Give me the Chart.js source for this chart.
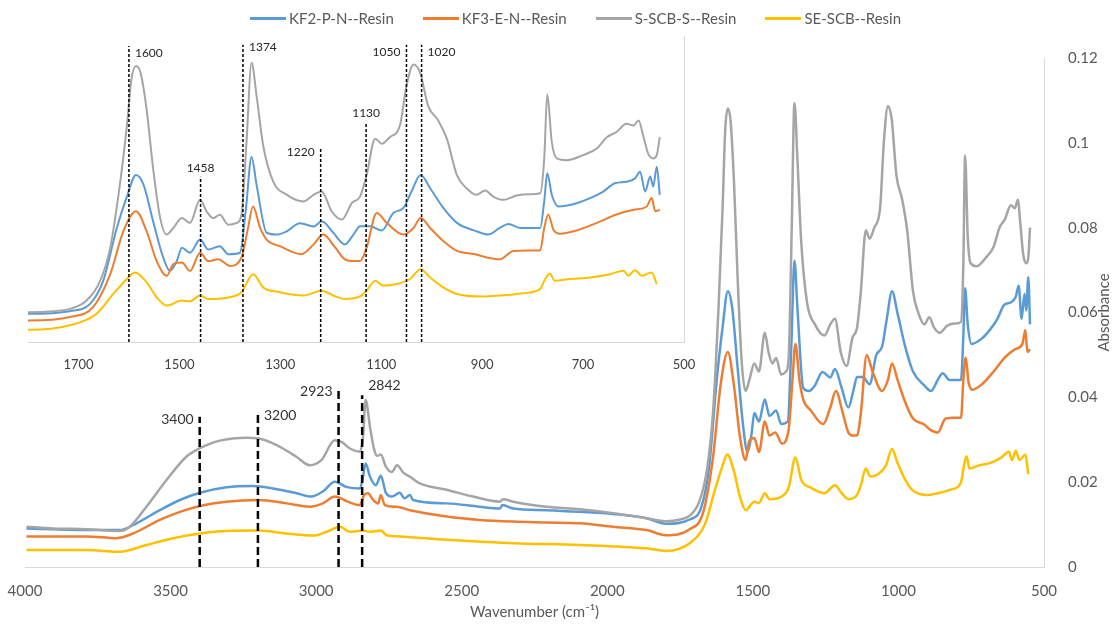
<!DOCTYPE html>
<html>
<head>
<meta charset="utf-8">
<title>FTIR resinas</title>
<script src="https://cdn.jsdelivr.net/npm/chart.js@4.4.1/dist/chart.umd.min.js"></script>
<style>
    body { margin: 0; background: #fff; }
    #wrap { position: relative; width: 1117px; height: 624px; }
    #main, #inset { position: absolute; left: 0; top: 0; }
    #leyenda { position: absolute; left: 250px; top: 9px; display: flex; align-items: center; font: 15px Lato, sans-serif; color: #595959; line-height: 18px; }
    #leyenda .item { display: flex; align-items: center; margin-right: 29px; }
    #leyenda .linea { width: 36px; height: 3px; margin-right: 3px; }
</style>
</head>
<body>
<div id="wrap">
    <canvas id="main" width="1117" height="624"></canvas>
    <canvas id="inset" width="720" height="380"></canvas>
    <div id="leyenda"></div>
</div>
<script>
// espectros (numero de onda cm-1 / absorbancia)
var kf2Wn = [3995, 3789, 3675, 3617, 3537, 3468, 3399, 3308, 3217, 3148, 3068, 3017, 2977, 2936, 2897, 2850, 2841, 2830, 2815, 2795, 2778, 2760, 2740, 2713, 2696, 2678, 2667, 2552, 2438, 2369, 2360, 2323, 2209, 2094, 1980, 1865, 1799, 1717, 1677, 1651, 1624, 1604, 1586, 1571, 1552, 1532, 1519, 1505, 1495, 1479, 1459, 1443, 1420, 1403, 1380, 1368, 1357, 1347, 1327, 1307, 1287, 1261, 1234, 1218, 1195, 1172, 1155, 1142, 1122, 1099, 1076, 1056, 1040, 1022, 1003, 977, 950, 911, 888, 865, 848, 825, 785, 777, 771, 762, 749, 713, 686, 660, 637, 614, 597, 587, 577, 567, 561, 554, 548];
var kf2Abs = [0.0091, 0.0087, 0.0087, 0.0103, 0.0134, 0.0158, 0.0175, 0.0188, 0.0191, 0.0185, 0.0174, 0.0166, 0.0178, 0.0201, 0.0189, 0.0185, 0.0205, 0.0244, 0.0213, 0.0193, 0.0215, 0.0174, 0.0166, 0.0175, 0.0162, 0.017, 0.0158, 0.015, 0.0142, 0.0138, 0.0146, 0.0138, 0.0134, 0.013, 0.0125, 0.0115, 0.0102, 0.0112, 0.0141, 0.0232, 0.0441, 0.0565, 0.065, 0.0611, 0.0467, 0.0324, 0.0272, 0.0311, 0.0363, 0.0343, 0.0395, 0.0356, 0.0369, 0.0337, 0.0343, 0.052, 0.0722, 0.0611, 0.0422, 0.0415, 0.0428, 0.046, 0.0447, 0.0467, 0.0422, 0.0376, 0.0415, 0.0448, 0.0448, 0.0431, 0.05, 0.052, 0.0585, 0.065, 0.0598, 0.052, 0.0461, 0.0428, 0.0415, 0.0441, 0.0457, 0.0441, 0.0441, 0.0546, 0.0657, 0.0572, 0.0526, 0.0539, 0.0559, 0.0585, 0.0618, 0.0624, 0.0637, 0.0663, 0.0585, 0.0644, 0.0605, 0.0683, 0.0572];

var kf3Wn = [3995, 3789, 3686, 3629, 3537, 3468, 3399, 3308, 3196, 3102, 3022, 2977, 2936, 2891, 2850, 2835, 2822, 2804, 2787, 2778, 2764, 2724, 2678, 2552, 2438, 2323, 2209, 2094, 1980, 1865, 1799, 1717, 1671, 1637, 1611, 1586, 1565, 1545, 1525, 1512, 1495, 1479, 1459, 1443, 1423, 1400, 1377, 1364, 1354, 1340, 1327, 1301, 1258, 1234, 1215, 1191, 1172, 1155, 1142, 1129, 1109, 1089, 1056, 1036, 1022, 1003, 977, 950, 914, 891, 865, 838, 812, 785, 777, 769, 759, 746, 713, 673, 634, 600, 574, 564, 557, 548];
var kf3Abs = [0.0072, 0.0072, 0.0068, 0.0079, 0.0111, 0.013, 0.0144, 0.0154, 0.0158, 0.015, 0.0142, 0.015, 0.0166, 0.0154, 0.0146, 0.017, 0.0174, 0.0158, 0.015, 0.017, 0.0146, 0.0142, 0.0134, 0.0119, 0.0111, 0.0107, 0.0105, 0.0103, 0.0095, 0.0087, 0.0075, 0.0089, 0.0128, 0.0258, 0.0428, 0.0507, 0.0428, 0.031, 0.0252, 0.0298, 0.0304, 0.0271, 0.0343, 0.031, 0.0317, 0.0291, 0.0324, 0.0441, 0.0526, 0.0441, 0.0395, 0.0369, 0.0337, 0.0376, 0.0415, 0.0363, 0.0317, 0.031, 0.031, 0.0363, 0.05, 0.0461, 0.0415, 0.0441, 0.048, 0.0441, 0.0389, 0.035, 0.0337, 0.0324, 0.0317, 0.035, 0.0352, 0.0352, 0.0441, 0.0494, 0.0435, 0.0418, 0.0431, 0.0461, 0.0494, 0.0513, 0.0526, 0.0559, 0.0507, 0.0513];

var sscbWn = [3995, 3904, 3789, 3675, 3640, 3583, 3514, 3446, 3399, 3331, 3240, 3196, 3137, 3068, 3022, 2982, 2936, 2913, 2885, 2850, 2839, 2830, 2815, 2800, 2790, 2778, 2760, 2740, 2722, 2700, 2678, 2644, 2552, 2461, 2369, 2358, 2323, 2209, 2094, 1980, 1865, 1799, 1750, 1717, 1684, 1657, 1637, 1618, 1604, 1595, 1586, 1577, 1565, 1552, 1538, 1525, 1512, 1495, 1479, 1459, 1446, 1433, 1420, 1403, 1386, 1377, 1367, 1357, 1347, 1334, 1314, 1287, 1254, 1234, 1218, 1198, 1178, 1158, 1142, 1129, 1112, 1099, 1083, 1063, 1050, 1036, 1023, 1007, 987, 970, 950, 931, 911, 894, 878, 858, 832, 805, 785, 777, 771, 762, 752, 732, 700, 673, 653, 634, 614, 600, 590, 581, 571, 561, 554, 548];
var sscbAbs = [0.0095, 0.0091, 0.0089, 0.0085, 0.0095, 0.0142, 0.0205, 0.026, 0.028, 0.0298, 0.0305, 0.0303, 0.0288, 0.026, 0.024, 0.0252, 0.0299, 0.0295, 0.028, 0.0272, 0.0307, 0.0394, 0.033, 0.0275, 0.0262, 0.0265, 0.0236, 0.0224, 0.024, 0.0222, 0.0213, 0.0197, 0.0182, 0.0166, 0.0154, 0.016, 0.0154, 0.0142, 0.0136, 0.0127, 0.0115, 0.0108, 0.0112, 0.0121, 0.0154, 0.0232, 0.0363, 0.0611, 0.0846, 0.1029, 0.1081, 0.1055, 0.0911, 0.0676, 0.048, 0.0415, 0.0441, 0.048, 0.0461, 0.0552, 0.0506, 0.048, 0.0493, 0.0454, 0.0461, 0.0493, 0.078, 0.1094, 0.0963, 0.0768, 0.0624, 0.0572, 0.0546, 0.0572, 0.0585, 0.0506, 0.0474, 0.054, 0.0565, 0.065, 0.0794, 0.0774, 0.08, 0.0846, 0.1002, 0.1087, 0.1055, 0.0924, 0.0866, 0.0794, 0.065, 0.0598, 0.0572, 0.0589, 0.0565, 0.0552, 0.0569, 0.0574, 0.0578, 0.0716, 0.097, 0.078, 0.0716, 0.0709, 0.0729, 0.0755, 0.08, 0.082, 0.0853, 0.0846, 0.0866, 0.0807, 0.0735, 0.0716, 0.0729, 0.08];

var seWn = [3995, 3789, 3675, 3583, 3491, 3399, 3308, 3196, 3102, 3010, 2964, 2918, 2885, 2839, 2816, 2778, 2758, 2713, 2552, 2323, 2094, 1865, 1799, 1717, 1664, 1631, 1604, 1588, 1565, 1545, 1525, 1495, 1479, 1459, 1443, 1400, 1377, 1354, 1334, 1301, 1254, 1218, 1195, 1172, 1142, 1129, 1112, 1096, 1069, 1043, 1022, 1003, 977, 950, 898, 865, 818, 785, 775, 766, 756, 726, 686, 647, 620, 610, 597, 584, 564, 554];
var seAbs = [0.004, 0.004, 0.0036, 0.0052, 0.0068, 0.0079, 0.0085, 0.0086, 0.0079, 0.0074, 0.0083, 0.0095, 0.0083, 0.0086, 0.0083, 0.0086, 0.0075, 0.0072, 0.0064, 0.0056, 0.0052, 0.0044, 0.0038, 0.0056, 0.0102, 0.018, 0.0239, 0.0265, 0.0226, 0.0167, 0.0134, 0.0154, 0.0151, 0.0174, 0.016, 0.0167, 0.0187, 0.0258, 0.0206, 0.0187, 0.0174, 0.0193, 0.0174, 0.016, 0.017, 0.0193, 0.0232, 0.0213, 0.0219, 0.0239, 0.0278, 0.0245, 0.0206, 0.018, 0.017, 0.0174, 0.0183, 0.02, 0.0239, 0.0261, 0.0232, 0.0239, 0.0245, 0.0258, 0.0272, 0.0252, 0.0274, 0.0252, 0.0265, 0.0219];

var xTicks = [4000, 3500, 3000, 2500, 2000, 1500, 1000, 500];
var insetTicks = [1700, 1500, 1300, 1100, 900, 700, 500];
var yTicks = [0, 0.02, 0.04, 0.06, 0.08, 0.1, 0.12];

// lineas de picos marcadas
var mainPeaks = [3400, 3200, 2923, 2842];
var mainPeakTop = [0.0354, 0.0363, 0.0422, 0.0405];
var mainPeakLabelY = [0.0347, 0.0358, 0.0413, 0.0429];
var mainPeakSide = ['left', 'right', 'left', 'right'];

var insetPeaks = [1600, 1458, 1374, 1220, 1130, 1050, 1020];
var insetPeakTop = [0.116, 0.0643, 0.1165, 0.0761, 0.086, 0.1165, 0.1165];
var insetPeakLabelY = [0.1134, 0.0678, 0.1157, 0.0741, 0.0896, 0.1137, 0.1137];
var insetPeakSide = ['right', 'center', 'right', 'left', 'center', 'left', 'right'];

function puntos(wn, abs) {
    var pts = [];
    for (var i = 0; i < wn.length; i++) {
        pts.push({ x: wn[i], y: abs[i] });
    }
    return pts;
}

function series(ancho) {
    var defs = [
        ['KF2-P-N--Resin', kf2Wn, kf2Abs, '#5B9BD5'],
        ['KF3-E-N--Resin', kf3Wn, kf3Abs, '#ED7D31'],
        ['S-SCB-S--Resin', sscbWn, sscbAbs, '#A5A5A5'],
        ['SE-SCB--Resin', seWn, seAbs, '#FFC000']
    ];
    return defs.map(function (d, i) {
        return {
            label: d[0],
            data: puntos(d[1], d[2]),
            borderColor: d[3],
            backgroundColor: d[3],
            borderWidth: ancho,
            pointRadius: 0,
            cubicInterpolationMode: 'monotone',
            order: 3 - i
        };
    });
}

function lineasPico(picos, tops, base, ancho, dash) {
    return picos.map(function (p, i) {
        return {
            label: '',
            data: [{ x: p, y: base }, { x: p, y: tops[i] }],
            borderColor: '#000',
            borderWidth: ancho,
            borderDash: dash,
            pointRadius: 0,
            order: -1
        };
    });
}

var etiquetasPico = {
    id: 'etiquetasPico',
    afterDatasetsDraw: function (chart, args, opts) {
        var ctx = chart.ctx;
        ctx.save();
        ctx.font = opts.size + 'px Lato, sans-serif';
        ctx.fillStyle = opts.color;
        ctx.textBaseline = 'middle';
        for (var i = 0; i < opts.picos.length; i++) {
            var x = chart.scales.x.getPixelForValue(opts.picos[i]);
            var y = chart.scales.y.getPixelForValue(opts.labelY[i]);
            if (opts.lado[i] == 'left') {
                ctx.textAlign = 'right';
                x -= 6;
            } else if (opts.lado[i] == 'right') {
                ctx.textAlign = 'left';
                x += 6;
            } else {
                ctx.textAlign = 'center';
            }
            ctx.fillText(String(opts.picos[i]), x, y);
        }
        ctx.restore();
    }
};

// titulo del eje y leido de abajo hacia arriba (como Excel)
var tituloY = {
    id: 'tituloY',
    afterDraw: function (chart, args, opts) {
        if (!opts.text) return;
        var ctx = chart.ctx;
        var a = chart.chartArea;
        ctx.save();
        ctx.translate(chart.scales.y.right - 13, (a.top + a.bottom) / 2);
        ctx.rotate(-Math.PI / 2);
        ctx.font = '15px Lato, sans-serif';
        ctx.fillStyle = '#595959';
        ctx.textAlign = 'center';
        ctx.textBaseline = 'middle';
        ctx.fillText(opts.text, 0, 0);
        ctx.restore();
    }
};

var leyendaHtml = {
    id: 'leyendaHtml',
    afterUpdate: function (chart) {
        var cont = document.getElementById('leyenda');
        cont.innerHTML = '';
        var items = chart.options.plugins.legend.labels.generateLabels(chart);
        items.sort(function (a, b) { return a.datasetIndex - b.datasetIndex; });
        items.forEach(function (item) {
            if (!item.text) return;
            var div = document.createElement('div');
            div.className = 'item';
            var linea = document.createElement('span');
            linea.className = 'linea';
            linea.style.background = item.strokeStyle;
            var txt = document.createElement('span');
            txt.textContent = item.text;
            div.appendChild(linea);
            div.appendChild(txt);
            cont.appendChild(div);
        });
    }
};

function ticksFijos(lista) {
    return function (scale) {
        scale.ticks = lista.map(function (v) { return { value: v }; });
    };
}

function sinComa(v) {
    return String(+v.toFixed(2));
}

var mainChart = new Chart(document.getElementById('main'), {
    type: 'line',
    data: {
        datasets: series(2.5).concat(lineasPico(mainPeaks, mainPeakTop, 0, 2.5, [8, 4]))
    },
    options: {
        responsive: false,
        animation: false,
        layout: { padding: { top: 58, left: 25, right: 0, bottom: 0 } },
        plugins: {
            legend: { display: false },
            tooltip: { enabled: false },
            etiquetasPico: { picos: mainPeaks, labelY: mainPeakLabelY, lado: mainPeakSide, size: 14, color: '#333' },
            tituloY: { text: 'Absorbance' }
        },
        scales: {
            x: {
                type: 'linear',
                reverse: true,
                min: 500,
                max: 4000,
                afterBuildTicks: ticksFijos(xTicks),
                afterFit: function (s) { s.height = 57; },
                grid: { display: false },
                border: { color: '#d9d9d9' },
                ticks: { font: { family: 'Lato', size: 15 }, color: '#595959', padding: 7, callback: sinComa },
                title: { display: true, text: 'Wavenumber (cm\u207B\u00B9)', font: { family: 'Lato', size: 15 }, color: '#595959', padding: { top: 0, bottom: 3 } }
            },
            y: {
                position: 'right',
                min: 0,
                max: 0.12,
                afterBuildTicks: ticksFijos(yTicks),
                afterFit: function (s) { s.width = 73; },
                grid: { display: false },
                border: { color: '#d9d9d9' },
                ticks: { font: { family: 'Lato', size: 15 }, color: '#595959', padding: 16, callback: sinComa }
            }
        }
    },
    plugins: [etiquetasPico, tituloY, leyendaHtml]
});

var insetChart = new Chart(document.getElementById('inset'), {
    type: 'line',
    data: {
        datasets: series(2).concat(lineasPico(insetPeaks, insetPeakTop, -0.001, 1.5, [3, 2]))
    },
    options: {
        responsive: false,
        animation: false,
        layout: { padding: { top: 36, left: 28, right: 0, bottom: 0 } },
        plugins: {
            legend: { display: false },
            tooltip: { enabled: false },
            etiquetasPico: { picos: insetPeaks, labelY: insetPeakLabelY, lado: insetPeakSide, size: 12, color: '#262626' }
        },
        scales: {
            x: {
                type: 'linear',
                reverse: true,
                min: 500,
                max: 1800,
                afterBuildTicks: ticksFijos(insetTicks),
                afterFit: function (s) { s.height = 38; },
                grid: { display: false },
                border: { color: '#d9d9d9' },
                ticks: { font: { family: 'Lato', size: 13 }, color: '#404040', padding: 7, callback: sinComa }
            },
            y: {
                position: 'right',
                min: -0.001,
                max: 0.12,
                afterFit: function (s) { s.width = 36; },
                grid: { display: false },
                border: { color: '#d9d9d9' },
                ticks: { display: false }
            }
        }
    },
    plugins: [etiquetasPico]
});
</script>
</body>
</html>
